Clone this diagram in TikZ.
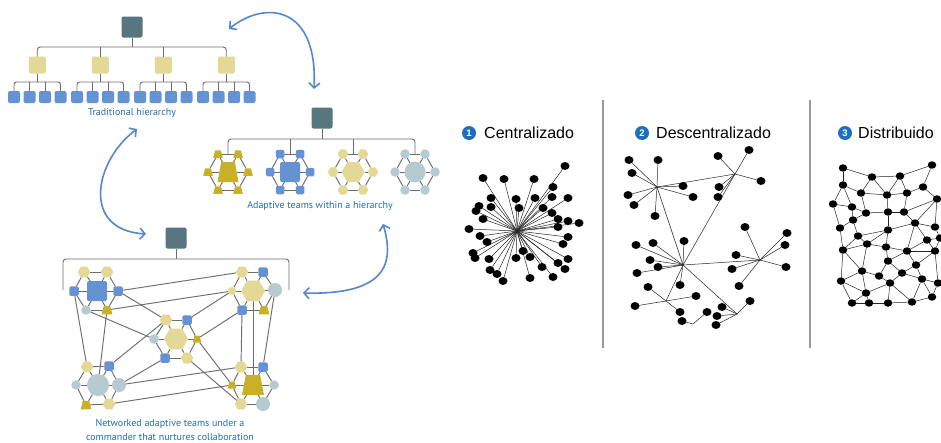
\documentclass[tikz,border=0pt]{standalone}
\usepackage{fontspec}
\setmainfont{Liberation Sans}
\newfontfamily\lblfont{PT Sans}
\usetikzlibrary{shapes.geometric,arrows.meta,backgrounds}
\definecolor{dboxC}{HTML}{587680}
\definecolor{yelC}{HTML}{E3D896}
\definecolor{bluC}{HTML}{6492D2}
\definecolor{oliC}{HTML}{C8B028}
\definecolor{gryC}{HTML}{B6CAD2}
\definecolor{lnC}{HTML}{6E6E6E}
\definecolor{txtC}{HTML}{226EAA}
\definecolor{arrC}{HTML}{5587CD}
\definecolor{bdgC}{HTML}{1E6EBE}
\definecolor{sepC}{HTML}{9A9A9A}
\begin{document}
\begin{tikzpicture}[x=1pt,y=-1pt,
 shp/.style={inner sep=0pt,outer sep=0pt,draw=none},
 dboxS/.style={shp,rectangle,rounded corners=2pt,fill=dboxC,minimum size=21pt},
 yboxS/.style={shp,rectangle,rounded corners=2pt,fill=yelC,minimum size=17pt},
 bboxS/.style={shp,rectangle,rounded corners=2pt,fill=bluC,minimum size=12pt},
 sqS/.style={shp,rectangle,rounded corners=1.5pt,fill=bluC,minimum size=9.5pt},
 bsqS/.style={shp,rectangle,rounded corners=2pt,fill=bluC,minimum size=20pt},
 hexS/.style={shp,regular polygon,regular polygon sides=6,fill=yelC,minimum size=12.5pt},
 shexS/.style={hexS,minimum size=8.5pt},
 bhexS/.style={hexS,minimum size=24pt},
 cirS/.style={shp,circle,fill=gryC,minimum size=9.5pt},
 cirM/.style={cirS,minimum size=14pt},
 bcirS/.style={cirS,minimum size=22pt},
 trS/.style={shp,inner sep=1pt,trapezium,trapezium stretches=true,trapezium left angle=72,trapezium right angle=72,fill=oliC,minimum width=10.5pt,minimum height=8.5pt},
 mtrS/.style={trS,minimum width=8.5pt,minimum height=7pt},
 btrS/.style={trS,trapezium left angle=75,trapezium right angle=75,minimum width=22pt,minimum height=20pt},
 tAs/.style={trS,minimum width=9.5pt,minimum height=7.5pt},
 tAb/.style={btrS,minimum width=21pt,minimum height=20pt},
 tBs/.style={sqS,minimum size=8.5pt},
 tBb/.style={bsqS},
 tCs/.style={hexS,minimum size=10.5pt},
 tCb/.style={bhexS,minimum size=23pt},
 tDs/.style={cirS,minimum size=9.5pt},
 tDb/.style={bcirS,minimum size=21pt},
 ln/.style={draw=lnC,line width=0.95pt},
 arr/.style={draw=arrC,line width=1.6pt,line cap=round,{Straight Barb[length=5pt,width=11pt]}-{Straight Barb[length=5pt,width=11pt]}},
 lbl/.style={font=\lblfont\fontsize{10}{14}\selectfont,text=txtC,inner sep=0pt,align=center},
 hdr/.style={font=\fontsize{16}{19}\selectfont,anchor=west,inner sep=0pt},
 badge/.style={shp,circle,fill=bdgC,minimum size=14pt,text=white,font=\bfseries\fontsize{9.5}{10}\selectfont},
 dotS/.style={shp,ellipse,fill=black,minimum width=9pt,minimum height=8pt},
 dsS/.style={shp,ellipse,fill=black,minimum width=8.5pt,minimum height=7.5pt},
 tn/.style={draw=black!85,line width=0.5pt},
 sepS/.style={draw=sepC,line width=1.3pt}]
\useasboundingbox (0,0) rectangle (941,442);
\begin{scope}[on background layer]
\fill[white] (0,0) rectangle (941,442);
\end{scope}

% ---------- Traditional hierarchy ----------
\node[dboxS] (h1) at (132,27) {};
\coordinate (hb1) at (132,47);
\foreach \g/\x in {1/14,2/77,3/140,4/203}{
  \node[yboxS] (y\g) at ({\x+23.25},65) {};
  \coordinate (g\g) at ({\x+23.25},82);
  \foreach \k in {1,2,3,4}{
    \node[bboxS] (b\g\k) at ({\x+(\k-1)*15.5},97) {};
  }
}
\draw[ln] (h1) -- (hb1);
\draw[ln,rounded corners=3pt] (y1.north) |- (hb1) -| (y4.north);
\draw[ln] (y2.north) -- (y2.north |- hb1);
\draw[ln] (y3.north) -- (y3.north |- hb1);
\foreach \g in {1,2,3,4}{
  \draw[ln] (y\g) -- (g\g);
  \draw[ln,rounded corners=2.5pt] (b\g1.north) |- (g\g) -| (b\g4.north);
  \draw[ln] (b\g2.north) -- (b\g2.north |- g\g);
  \draw[ln] (b\g3.north) -- (b\g3.north |- g\g);
}
\node[lbl] (t1) at (132,113) {Traditional hierarchy};

% ---------- Adaptive teams within a hierarchy ----------
\node[dboxS] (h2) at (322,118) {};
\coordinate (hb2) at (322,139);
\foreach \t/\x/\big/\sml in {1/228/tAb/tAs,2/290/tBb/tBs,3/353/tCb/tCs,4/415/tDb/tDs}{
  \node[\big] (T\t c) at (\x,172) {};
  \foreach \k/\dx/\dy in {1/-10/-18,2/10/-18,3/20/0,4/10/18,5/-10/18,6/-20/0}{
    \node[\sml] (T\t n\k) at ({\x+\dx},{172+\dy}) {};
  }
  \coordinate (tt\t) at (\x,154);
}
\begin{scope}[on background layer]
\foreach \t in {1,2,3,4}{
  \foreach \p/\q in {1/2,2/3,3/4,4/5,5/6,6/1}{\draw[ln] (T\t n\p) -- (T\t n\q);}
  \foreach \k in {1,...,6}{\draw[ln] (T\t c) -- (T\t n\k);}
}
\end{scope}
\draw[ln] (h2) -- (hb2);
\draw[ln,rounded corners=3pt] (tt1) |- (hb2) -| (tt4);
\draw[ln] (tt2) -- (tt2 |- hb2);
\draw[ln] (tt3) -- (tt3 |- hb2);
\node[lbl] (t2) at (320,206) {Adaptive teams within a hierarchy};

% ---------- Networked adaptive teams ----------
\node[dboxS] (h3) at (176,238) {};
\coordinate (hb3) at (176,259);
\coordinate (nl) at (63,290);
\coordinate (nr) at (289,290);
\draw[ln] (h3) -- (hb3);
\draw[ln,rounded corners=3pt] (nl) |- (hb3) -| (nr);
% top-left cluster
\node[hexS] (a1) at (84,272) {};
\node[hexS] (a2) at (107,272) {};
\node[sqS] (a3) at (74,291) {};
\node[bsqS] (a4) at (97,291) {};
\node[sqS] (a5) at (118,291) {};
\node[cirS] (a6) at (86,310) {};
\node[trS] (a7) at (107,310) {};
% top-right cluster
\node[hexS] (b1) at (242,272) {};
\node[sqS] (b2) at (263,272) {};
\node[shexS] (b3) at (232,291) {};
\node[bhexS] (b4) at (253,291) {};
\node[cirM] (b5) at (275,290) {};
\node[sqS] (b6) at (242,310) {};
\node[trS] (b7) at (264,310) {};
% centre cluster
\node[hexS] (c1) at (166,320) {};
\node[sqS] (c2) at (187,320) {};
\node[cirS] (c3) at (154,339) {};
\node[bhexS] (c4) at (176,339) {};
\node[mtrS] (c5) at (197,339) {};
\node[sqS] (c6) at (165,358) {};
\node[hexS] (c7) at (187,358) {};
% bottom-left cluster
\node[hexS] (d1) at (87,367) {};
\node[sqS] (d2) at (109,366) {};
\node[cirS] (d3) at (76,385) {};
\node[bcirS] (d4) at (98,385) {};
\node[cirM] (d5) at (119,385) {};
\node[trS] (d6) at (86,405) {};
\node[hexS] (d7) at (109,404) {};
% bottom-right cluster
\node[hexS] (e1) at (241,367) {};
\node[sqS] (e2) at (263,367) {};
\node[mtrS] (e3) at (232,385) {};
\node[btrS] (e4) at (253,385) {};
\node[cirS] (e5) at (274,385) {};
\node[hexS] (e6) at (241,404) {};
\node[cirM] (e7) at (263,404) {};
\begin{scope}[on background layer]
\foreach \X in {a,b,c,d,e}{
  \foreach \p/\q in {1/2,2/5,5/7,7/6,6/3,3/1}{\draw[ln] (\X\p) -- (\X\q);}
  \foreach \k in {1,2,3,5,6,7}{\draw[ln] (\X4) -- (\X\k);}
}
\foreach \p/\q in {a5/b1,a7/b3,a6/c3,a5/c1,c1/d2,a3/d1,a7/d4,d5/e1,d7/e3,d5/c6,b3/c2,c5/b6,c5/e3,c7/e6,b6/e1,b4/e4,b5/e2}{
  \draw[ln] (\p) -- (\q);
}
\end{scope}
\node[lbl] (t3) at (170,430) {Networked adaptive teams under a\\commander that nurtures collaboration};

% ---------- arrows ----------
\coordinate (ar1a) at (229,29);
\coordinate (ar1b) at (314,89);
\coordinate (ar2a) at (137,129);
\coordinate (ar2b) at (146,234);
\coordinate (ar3a) at (383,224);
\coordinate (ar3b) at (303,293);
\draw[arr] (ar1a) .. controls (265,0) and (318,5) .. (ar1b);
\draw[arr] (ar2a) .. controls (95,160) and (80,230) .. (ar2b);
\draw[arr] (ar3a) .. controls (395,265) and (385,295) .. (ar3b);

% ---------- separators ----------
\coordinate (s1a) at (603,100); \coordinate (s1b) at (603,348);
\coordinate (s2a) at (810,100); \coordinate (s2b) at (810,348);
\draw[sepS] (s1a) -- (s1b);
\draw[sepS] (s2a) -- (s2b);

% ---------- headers ----------
\node[badge] (bd1) at (469,133) {1};
\node[hdr] (hd1) at (484,133) {Centralizado};
\node[badge] (bd2) at (642,133) {2};
\node[hdr] (hd2) at (656,133) {Descentralizado};
\node[badge] (bd3) at (845,133) {3};
\node[hdr] (hd3) at (858,133) {Distribuido};

% ---------- centralizado ----------
\coordinate (czH) at (517,231);
\foreach \n/\x/\y in {1/565/166,2/483/178,3/504/179,4/534/179,5/553/187,6/491/198,7/516/199,8/535/198,9/552/197,10/568/198,
 11/479/206,12/491/207,13/476/211,14/519/208,15/543/208,16/483/219,17/552/213,18/558/219,19/568/221,20/579/223,
 21/558/227,22/469/229,23/480/236,24/487/242,25/568/237,26/563/244,27/473/253,28/475/258,29/523/251,30/530/257,
 31/489/259,32/516/258,33/558/263,34/568/259,35/542/267,36/565/269,37/490/270,38/497/274,39/503/281,40/530/278,41/553/277}{
  \node[dotS] (cz\n) at (\x,\y) {};
}
\begin{scope}[on background layer]
\foreach \n in {1,...,41}{\draw[tn] (czH) -- (cz\n);}
\end{scope}

% ---------- descentralizado ----------
\coordinate (dzH1) at (657,187);
\coordinate (dzH2) at (735,174);
\coordinate (dzH3) at (683,265);
\coordinate (dzH4) at (760,260);
\coordinate (dzH5) at (666,301);
\coordinate (dzH6) at (737,314);
\coordinate (dzJ) at (693,324);
\foreach \n/\x/\y/\h in {p1/629/160/H1,p2/658/160/H1,p3/632/173/H1,p4/628/195/H1,p5/634/205/H1,p6/655/216/H1,p7/683/186/H1,p8/693/197/H1,
 q1/718/156/H2,q2/749/150/H2,q3/761/181/H2,q4/719/187/H2,q5/718/197/H2,
 r1/636/245/H3,r2/653/243/H3,r3/684/241/H3,r4/650/260/H3,r5/658/267/H3,r6/637/273/H3,r7/680/285/H3,
 s1/745/227/H4,s2/787/233/H4,s3/785/245/H4,s4/736/255/H4,s5/732/269/H4,s6/786/267/H4,s7/739/286/H4,
 u1/648/287/H5,u2/635/306/H5,u3/696/296/H5,u4/680/312/H5,u5/682/321/J,u6/707/312/J,
 v1/722/307/H6,v2/750/301/H6,v3/717/316/H6,v4/716/325/H6}{
  \node[dotS] (dz\n) at (\x,\y) {};
  \begin{scope}[on background layer]\draw[tn] (dz\h) -- (dz\n);\end{scope}
}
\begin{scope}[on background layer]
\foreach \p/\q in {H1/H2,H1/H3,H3/H2,H3/H4,H3/H5,H3/H6}{\draw[tn] (dz\p) -- (dz\q);}
\end{scope}

% ---------- distribuido ----------
\foreach \n/\x/\y in {1/843/168,2/872/177,3/900/176,4/932/165,5/843/185,6/861/193,7/887/195,8/907/193,9/923/187,10/937/199,
 11/833/204,12/852/207,13/866/213,14/888/212,15/904/212,16/853/220,17/840/228,18/888/230,19/915/223,20/935/227,
 21/858/236,22/927/240,23/940/238,24/843/250,25/867/244,26/886/247,27/907/251,28/935/251,29/888/261,30/862/271,
 31/879/276,32/902/273,33/916/265,34/841/281,35/890/283,36/922/279,37/938/283,38/866/293,39/852/303,40/869/303,
 41/888/303,42/912/302,43/932/297}{
  \node[dsS] (ds\n) at (\x,\y) {};
}
\begin{scope}[on background layer]
\foreach \a/\b in {1/2,1/5,2/3,3/4,4/9,2/6,2/7,3/7,3/8,5/6,5/11,5/12,6/7,6/13,7/8,7/14,8/9,8/15,9/10,10/15,10/19,10/20,
 11/12,11/17,12/13,12/16,13/14,13/16,14/15,14/18,15/19,16/17,16/21,17/24,18/19,18/21,18/25,18/26,19/20,19/22,19/27,
 20/23,21/25,21/24,22/23,22/28,22/27,23/28,24/25,24/34,24/30,25/26,25/30,26/27,26/29,27/29,27/33,27/28,28/33,28/37,
 29/31,29/32,30/31,30/34,30/38,31/35,32/35,32/33,32/36,33/36,34/38,34/39,35/41,35/38,35/42,36/42,36/37,36/43,37/43,
 38/39,38/40,39/40,40/41,41/42,42/43}{
  \draw[tn] (ds\a) -- (ds\b);
}
\end{scope}
\end{tikzpicture}
\end{document}
